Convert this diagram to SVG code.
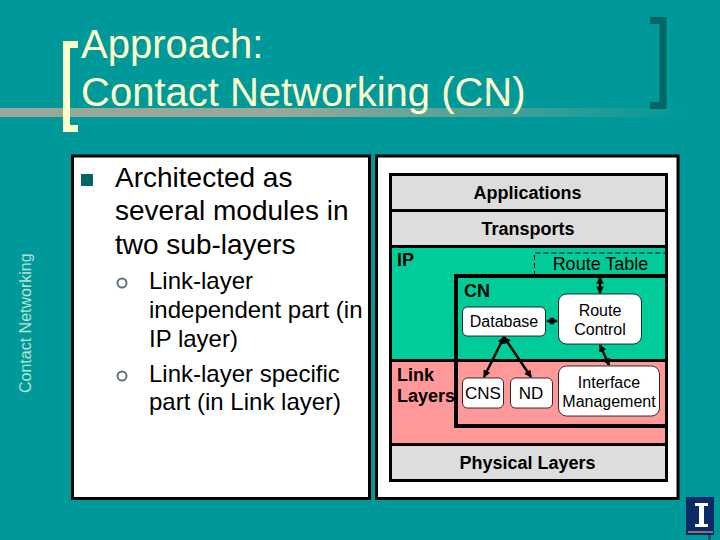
<svg xmlns="http://www.w3.org/2000/svg" width="720" height="540" viewBox="0 0 720 540">
<style>
text{font-family:"Liberation Sans",Arial,sans-serif}
.t{font-size:40px;fill:#ffffcc}
.b{font-size:28px;fill:#000}
.s{font-size:24px;fill:#000}
.h{font-size:18px;font-weight:bold;fill:#000}
.n{font-size:16px;fill:#000}
.c{text-anchor:middle}
.box{fill:#fff;stroke:#000;stroke-width:.8}
.line{stroke:#000;stroke-width:2.5;fill:none;marker-start:url(#a);marker-end:url(#a)}
</style>
<defs>
<marker id="a" viewBox="0 0 8 8" refX="7" refY="4" markerWidth="3" markerHeight="3" orient="auto-start-reverse"><path d="M0 0L8 4L0 8Z" fill="#000"/></marker>
<linearGradient id="rule" x1="0" x2="1" y1="0" y2="0"><stop offset="0" stop-color="#99a899"/><stop offset=".4" stop-color="#99a899"/><stop offset=".95" stop-color="#009999"/></linearGradient>
</defs>
<rect width="720" height="540" fill="#009999"/>
<rect y="108" width="720" height="9" fill="url(#rule)"/>
<path d="M78 44.500H66.500V128.500H78" fill="none" stroke="#ffffcc" stroke-width="7"/>
<path d="M650 20.500H663V105.500H650" fill="none" stroke="#006666" stroke-width="7"/>
<text class="t" x="81" y="58">Approach:</text>
<text class="t" x="81" y="106">Contact Networking (CN)</text>
<text transform="translate(31 393) rotate(-90)" font-size="16" fill="#b4e4d4">Contact Networking</text>
<g id="left-panel">
<rect x="72.500" y="156" width="297" height="342.500" fill="#fff" stroke="#000" stroke-width="3"/>
<rect x="81" y="174" width="12" height="12" fill="#006666"/>
<text class="b" x="115" y="187">Architected as</text>
<text class="b" x="115" y="220">several modules in</text>
<text class="b" x="115" y="254">two sub-layers</text>
<circle cx="122" cy="283" r="4.500" fill="none" stroke="#667080" stroke-width="2"/>
<text class="s" x="149" y="289">Link-layer</text>
<text class="s" x="149" y="318">independent part (in</text>
<text class="s" x="149" y="347">IP layer)</text>
<circle cx="122" cy="376" r="4.500" fill="none" stroke="#667080" stroke-width="2"/>
<text class="s" x="149" y="382">Link-layer specific</text>
<text class="s" x="149" y="410">part (in Link layer)</text>
</g>
<g id="right-panel">
<rect x="376.500" y="156" width="301.500" height="342.500" fill="#fff" stroke="#000" stroke-width="3"/>
</g>
<g id="stack">
<rect x="390.500" y="174.500" width="276" height="306" fill="#ddd" stroke="#000" stroke-width="3"/>
<rect x="392" y="246.500" width="273" height="114" fill="#00cc99"/>
<rect x="392" y="360.500" width="273" height="84" fill="#ff9999"/>
<path d="M390 210.500H666M390 246.500H666M390 360.500H666M390 444.500H666" stroke="#000" stroke-width="3" fill="none"/>
<text class="h c" x="527.500" y="199">Applications</text>
<text class="h c" x="528" y="235">Transports</text>
<text class="h" x="397" y="266">IP</text>
<text class="h" x="397" y="381">Link</text>
<text class="h" x="397" y="402">Layers</text>
<text class="h c" x="527.500" y="469">Physical Layers</text>
</g>
<g id="route-table">
<path d="M534.500 276V253H665" fill="none" stroke="#000" stroke-dasharray="5 3" stroke-width="1"/>
<text class="n c" x="600.500" y="270" style="font-size:18px">Route Table</text>
</g>
<g id="cn">
<path d="M666 276H456V426H666" fill="none" stroke="#000" stroke-width="4"/>
<text class="h" x="464" y="297">CN</text>
</g>
<g id="database"><rect class="box" x="462.500" y="307" width="83" height="29" rx="5"/><text class="n c" x="504" y="327">Database</text></g>
<g id="route-control"><rect class="box" x="558.500" y="294" width="83" height="50" rx="8"/><text class="n c" x="600" y="316">Route</text><text class="n c" x="600" y="335">Control</text></g>
<g id="cns"><rect class="box" x="462.500" y="378" width="41" height="30" rx="5"/><text class="n c" x="483" y="399" style="font-size:17px">CNS</text></g>
<g id="nd"><rect class="box" x="510.500" y="378" width="42" height="30" rx="5"/><text class="n c" x="531" y="399" style="font-size:17px">ND</text></g>
<g id="interface-management"><rect class="box" x="558.500" y="366" width="101" height="50" rx="8"/><text class="n c" x="609" y="388">Interface</text><text class="n c" x="609" y="407">Management</text></g>
<g id="connectors">
<path class="line" d="M600 277V293"/>
<path class="line" d="M547 321H557"/>
<path class="line" d="M504 337L484 377"/>
<path class="line" d="M504 337L531 377"/>
<path class="line" d="M600 345L609 365"/>
</g>
<g id="logo">
<rect x="686" y="497" width="28" height="38" fill="#0b2a66"/>
<path d="M688 532H713" stroke="#b08d6a" stroke-width="1.500"/>
<rect x="708" y="535" width="3" height="5" fill="#0b5a76"/>
<path d="M695 503H708V506H704V524H708V527H695V524H699V506H695Z" fill="#fff"/>
</g>
</svg>
